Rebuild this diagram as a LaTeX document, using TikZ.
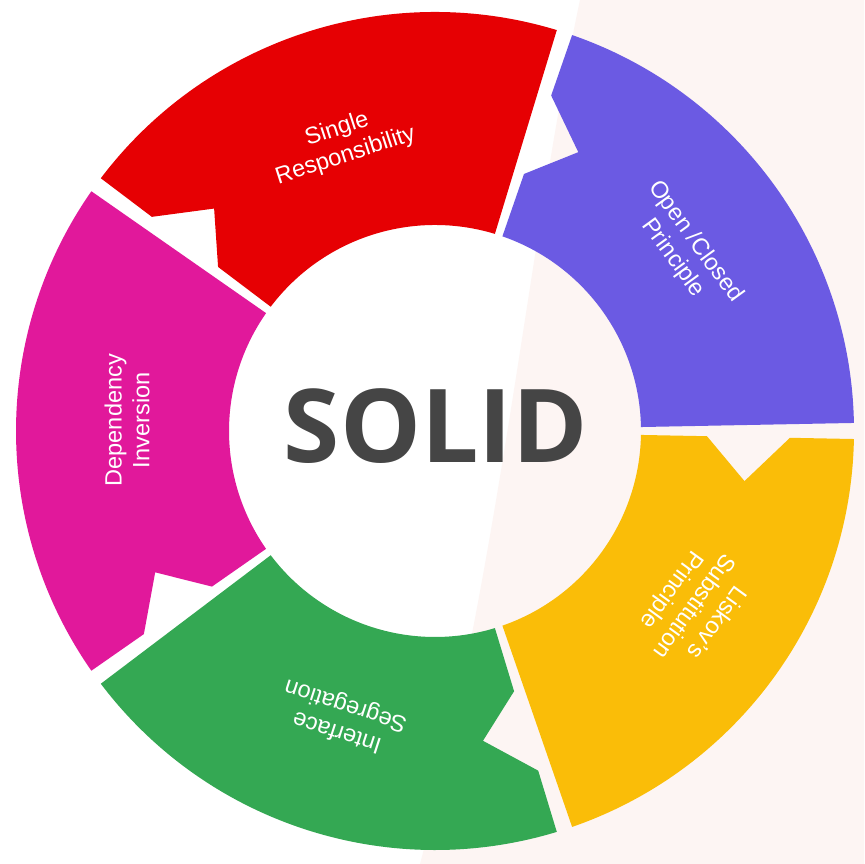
\documentclass[tikz,border=0pt]{standalone}
\usepackage{fontspec}
\setmainfont{Liberation Sans}
\newfontfamily\solidfont{Open Sans}
\usetikzlibrary{positioning}

\definecolor{srred}{HTML}{E60003}
\definecolor{srpurple}{HTML}{6B5AE3}
\definecolor{sryellow}{HTML}{FABD08}
\definecolor{srgreen}{HTML}{34A853}
\definecolor{srmagenta}{HTML}{E1189B}
\definecolor{bgpink}{HTML}{FDF5F3}
\definecolor{solidgray}{HTML}{454545}

\tikzset{
  seglabel/.style={text=white, align=center, inner sep=0pt,
    font=\fontsize{6.7}{7.9}\selectfont},
  solidlabel/.style={text=solidgray, inner sep=0pt,
    font=\solidfont\bfseries\fontsize{29}{30}\selectfont}
}

\begin{document}
\begin{tikzpicture}
  \useasboundingbox (0,0) rectangle (8.64,8.64);
  \fill[white] (0,0) rectangle (8.64,8.64);
  % faint tint on the right half
  \fill[bgpink] (5.80,8.64) .. controls (5.30,6.30) and (5.00,3.00) .. (4.20,0)
    -- (8.64,0) -- (8.64,8.64) -- cycle;

  \begin{scope}[shift={(4.35,4.33)}]
    % ring segments, notch on the leading end
    \foreach \a/\col in {0/srpurple,-72/sryellow,-144/srgreen,144/srmagenta,72/srred}{
      \fill[\col] ({\a+1.1}:4.19) arc[start angle=\a+1.1, end angle=\a+70.9, radius=4.19]
        -- ({\a+70.9}:3.55) -- ({\a+62.8}:3.135) -- ({\a+70.9}:2.72)
        -- ({\a+70.9}:2.06) arc[start angle=\a+70.9, end angle=\a+1.1, radius=2.06]
        -- cycle;
    }
    \node[seglabel, rotate=18] (srp) at (108:3.03) {Single\\Responsibility};
    \node[seglabel, rotate=-54] (ocp) at (36:3.08) {Open /Closed\\Principle};
    \node[seglabel, rotate=-126] (lsp) at (-34:3.12) {Liskov’s\\Substitution\\Principle};
    \node[seglabel, rotate=-198] (isp) at (-108:3.02) {Interface\\Segregation};
    \node[seglabel, rotate=90] (dip) at (178:3.08) {Dependency\\Inversion};
  \end{scope}

  \node[solidlabel] (solid) at (4.36,4.375) {SOLID};
\end{tikzpicture}
\end{document}
